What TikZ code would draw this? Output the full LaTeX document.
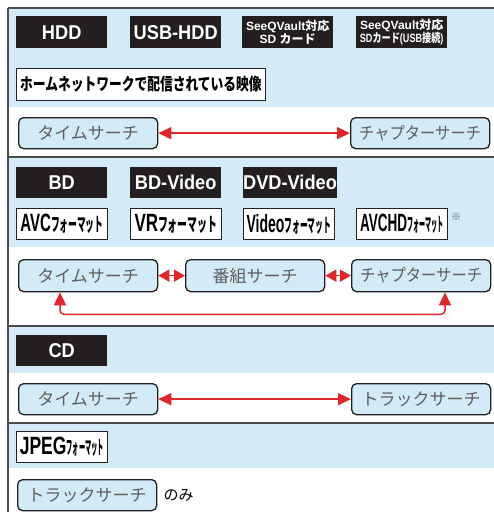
\documentclass[tikz,border=0pt]{standalone}
\usepackage{fontspec}
\usepackage{graphicx}
\setmainfont{Liberation Sans}
\newfontfamily\jp{Noto Sans CJK JP}
\usetikzlibrary{arrows.meta,calc}
\definecolor{band}{HTML}{D3EBF7}
\definecolor{lbl}{HTML}{231F20}
\definecolor{rd}{HTML}{E0262B}
\definecolor{sepc}{HTML}{4D4D4D}
\definecolor{gtxt}{HTML}{5E5E5E}
\newcommand\fmtx[3]{\scalebox{#2}[1]{\fontsize{25}{25}\selectfont\bfseries #1}\scalebox{#3}[1]{\jp\bfseries\fontsize{19}{19}\selectfont フォーマット}}
\tikzset{
  medium/.style={fill=lbl,text=white,anchor=north west,inner sep=0pt,
    minimum width=91pt,minimum height=32pt,font=\bfseries\fontsize{20}{20}\selectfont},
  sqlabel/.style={medium,align=center,font=\bfseries\fontsize{12}{11.5}\selectfont},
  fmtbox/.style={draw=lbl,line width=0.9pt,fill=white,anchor=north west,inner sep=0pt,
    minimum width=91pt,minimum height=31pt},
  search/.style={draw=lbl,line width=1.3pt,rounded corners=5pt,fill=band,text=gtxt,
    anchor=north west,inner sep=0pt,minimum width=139pt,minimum height=31pt,
    font=\jp\fontsize{17}{17}\selectfont},
  redarr/.style={draw=rd,line width=1.5pt,{Triangle[length=13pt,width=12pt]}-{Triangle[length=13pt,width=12pt]}},
  shortarr/.style={draw=rd,line width=1.5pt,{Triangle[length=11pt,width=12pt]}-{Triangle[length=11pt,width=12pt]}},
  sepline/.style={draw=sepc,line width=1.3pt}
}
\begin{document}
\begin{tikzpicture}[x=1pt,y=-1pt]
\useasboundingbox (0,0) rectangle (494,512);
% bands
\fill[band] (8,8) rectangle (494,107);
\fill[band] (8,157) rectangle (494,247);
\fill[band] (8,326) rectangle (494,373);
\fill[band] (8,423) rectangle (494,468);
% frame lines
\draw[sepline] (8,8) -- (494,8);
\draw[sepline] (8,157) -- (494,157);
\draw[sepline] (8,326) -- (494,326);
\draw[sepline] (8,423) -- (494,423);
\draw[sepline] (8,8) -- (8,512);
% section 1
\node[medium] (hdd) at (16,16) {\scalebox{0.91}[1]{HDD}};
\node[medium] (usbhdd) at (130,16) {\scalebox{0.91}[1]{USB-HDD}};
\node[sqlabel] (sq1) at (242,16) {SeeQVault{\jp\bfseries 対応}\\SD {\jp\bfseries カード}};
\node[sqlabel] (sq2) at (356,16) {SeeQVault{\jp\bfseries 対応}\\\scalebox{0.76}[1]{SD{\jp\bfseries カード}(USB{\jp\bfseries 接続})}};
\node[fmtbox,minimum width=249pt,minimum height=32pt,font=\jp\bfseries\fontsize{17}{17}\selectfont] (home) at (16,68) {\scalebox{0.75}[1]{ホームネットワークで配信されている映像}};
\node[search] (t1) at (18,117) {タイムサーチ};
\node[search] (c1) at (350,117) {\scalebox{0.9}[1]{チャプターサーチ}};
\draw[redarr] (t1.east) -- (c1.west);
% section 2
\node[medium,minimum height=31pt] (bd) at (16,167) {\scalebox{0.91}[1]{BD}};
\node[medium,minimum height=31pt] (bdv) at (130,167) {\scalebox{0.91}[1]{BD-Video}};
\node[medium,minimum height=31pt] (dvdv) at (243,167) {\scalebox{0.91}[1]{DVD-Video}};
\node[fmtbox] (avc) at (16,208) {\fmtx{AVC}{0.6}{0.46}};
\node[fmtbox] (vr) at (130,208) {\fmtx{VR}{0.68}{0.52}};
\node[fmtbox] (video) at (243,208) {\fmtx{Video}{0.56}{0.41}};
\node[fmtbox] (avchd) at (356,208) {\fmtx{AVCHD}{0.54}{0.32}};
\node[text=gtxt,font=\jp\fontsize{10}{10}\selectfont,inner sep=0pt] (note) at (456,217) {※};
\node[search,minimum height=32pt] (t2) at (18,259) {タイムサーチ};
\node[search,minimum height=32pt] (p2) at (185,259) {番組サーチ};
\node[search,minimum height=32pt] (c2) at (351,259) {\scalebox{0.9}[1]{チャプターサーチ}};
\draw[shortarr] (t2.east) -- (p2.west);
\draw[shortarr] (p2.east) -- (c2.west);
\draw[redarr,rounded corners=4pt] ($(t2.south west)+(42,0)$) -- ++(0,22) -| ($(c2.south west)+(94,0)$);
% section 3
\node[medium,minimum height=31pt] (cd) at (16,335) {\scalebox{0.91}[1]{CD}};
\node[search] (t3) at (18,383) {タイムサーチ};
\node[search] (k3) at (351,383) {トラックサーチ};
\draw[redarr] (t3.east) -- (k3.west);
% section 4
\node[fmtbox] (jpeg) at (16,431) {\fmtx{JPEG}{0.7}{0.33}};
\node[search] (k4) at (17,479) {トラックサーチ};
\node[anchor=west,inner sep=0pt,font=\jp\fontsize{15}{15}\selectfont] (nomi) at ($(k4.east)+(6,0)$) {のみ};
\end{tikzpicture}
\end{document}
